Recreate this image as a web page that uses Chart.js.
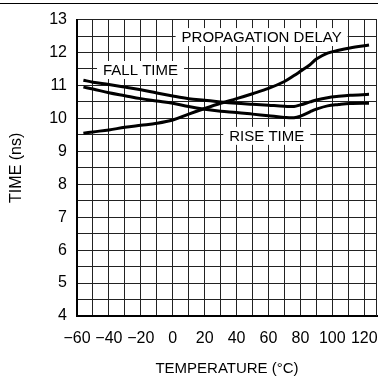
<!DOCTYPE html>
<html>
<head>
<meta charset="utf-8">
<script src="https://cdn.jsdelivr.net/npm/chart.js@4/dist/chart.umd.min.js"></script>
<style>
  body { margin: 0; background: #fff; }
  canvas { display: block; }
</style>
</head>
<body>
<canvas id="timeChart" width="378" height="377"></canvas>
<script>
const temperature = [-56, -50, -40, -30, -20, -10, 0, 10, 20, 30, 40, 50, 60, 70, 76, 80, 86, 90, 97, 104, 111, 123];
const propagationDelay = [9.55, 9.59, 9.65, 9.73, 9.79, 9.85, 9.95, 10.13, 10.3, 10.46, 10.6, 10.75, 10.91, 11.12, 11.3, 11.43, 11.63, 11.8, 11.98, 12.07, 12.14, 12.23];
const fallTime = [11.16, 11.1, 11.03, 10.95, 10.87, 10.77, 10.68, 10.6, 10.55, 10.5, 10.46, 10.43, 10.4, 10.37, 10.36, 10.41, 10.5, 10.56, 10.63, 10.67, 10.7, 10.73];
const riseTime = [10.95, 10.89, 10.78, 10.69, 10.6, 10.53, 10.46, 10.36, 10.28, 10.22, 10.18, 10.13, 10.08, 10.03, 10.02, 10.07, 10.2, 10.28, 10.38, 10.42, 10.45, 10.46];
const seriesNames = ["PROPAGATION DELAY", "FALL TIME", "RISE TIME"];

const FONT = "'Liberation Sans', Arial, sans-serif";

const toPoints = ys => temperature.map((t, i) => ({ x: t, y: ys[i] }));

// where each curve name sits on the grid (data units)
const labelSpots = [
    { x: 55.7, y: 12.5 },
    { x: -20.2, y: 11.5 },
    { x: 58.9, y: 9.5 }
];

const curveLabels = {
    id: "curveLabels",
    beforeDatasetsDraw(chart) {
        const { ctx, scales, chartArea } = chart;
        ctx.save();
        // right edge of the grid
        ctx.strokeStyle = "#222";
        ctx.lineWidth = 1;
        ctx.beginPath();
        ctx.moveTo(chartArea.right - 0.5, chartArea.top);
        ctx.lineTo(chartArea.right - 0.5, chartArea.bottom);
        ctx.stroke();

        ctx.font = "15px " + FONT;
        ctx.textAlign = "center";
        ctx.textBaseline = "middle";
        seriesNames.forEach((name, i) => {
            const px = scales.x.getPixelForValue(labelSpots[i].x);
            const py = scales.y.getPixelForValue(labelSpots[i].y);
            const w = ctx.measureText(name).width;
            ctx.fillStyle = "#fff";
            ctx.fillRect(px - w / 2 - 6, py - 8, w + 12, 18);
            ctx.fillStyle = "#000";
            ctx.fillText(name, px, py + 1.5);
        });
        ctx.restore();
    },
    afterDraw(chart) {
        const ctx = chart.ctx;
        ctx.save();
        ctx.strokeStyle = "#000";
        ctx.lineWidth = 1;
        ctx.beginPath();
        ctx.moveTo(0, 3.5);
        ctx.lineTo(chart.width, 3.5);
        ctx.stroke();
        ctx.restore();
    }
};

const lineStyle = { borderColor: "#000", borderWidth: 3, pointRadius: 0, tension: 0.35, fill: false };

new Chart(document.getElementById("timeChart"), {
    type: "line",
    data: {
        datasets: [
            { label: seriesNames[0], data: toPoints(propagationDelay), ...lineStyle },
            { label: seriesNames[1], data: toPoints(fallTime), ...lineStyle },
            { label: seriesNames[2], data: toPoints(riseTime), ...lineStyle }
        ]
    },
    options: {
        responsive: false,
        animation: false,
        layout: { padding: { top: 14, right: 1, bottom: 0, left: 0 } },
        plugins: { legend: { display: false }, tooltip: { enabled: false } },
        scales: {
            x: {
                type: "linear",
                min: -60,
                max: 128,
                afterFit: s => { s.height = 61; s.paddingLeft = 0; s.paddingRight = 0; },
                border: { color: "#000", width: 2 },
                grid: { color: "#222", lineWidth: 1, drawTicks: false },
                ticks: {
                    stepSize: 10,
                    includeBounds: false,
                    padding: 13,
                    color: "#000",
                    font: { family: FONT, size: 16 },
                    maxRotation: 0,
                    autoSkip: false,
                    callback: v => (v % 20 === 0 && v <= 120) ? String(v).replace("-", "\u2212") : ""
                },
                title: {
                    display: true,
                    text: "TEMPERATURE (\u00B0C)",
                    color: "#000",
                    font: { family: FONT, size: 15, lineHeight: 1 },
                    padding: { top: 0, bottom: 1 }
                }
            },
            y: {
                min: 4,
                max: 13,
                afterFit: s => { s.width = 77; },
                border: { color: "#000", width: 2 },
                grid: { color: "#222", lineWidth: 1, drawTicks: false },
                ticks: {
                    stepSize: 0.5,
                    padding: 10,
                    color: "#000",
                    font: { family: FONT, size: 16 },
                    autoSkip: false,
                    callback: v => Number.isInteger(v) ? String(v) : ""
                },
                title: {
                    display: true,
                    text: "TIME (ns)",
                    color: "#000",
                    font: { family: FONT, size: 16, lineHeight: 1 },
                    padding: { top: 9, bottom: 0 }
                }
            }
        }
    },
    plugins: [curveLabels]
});
</script>
</body>
</html>
